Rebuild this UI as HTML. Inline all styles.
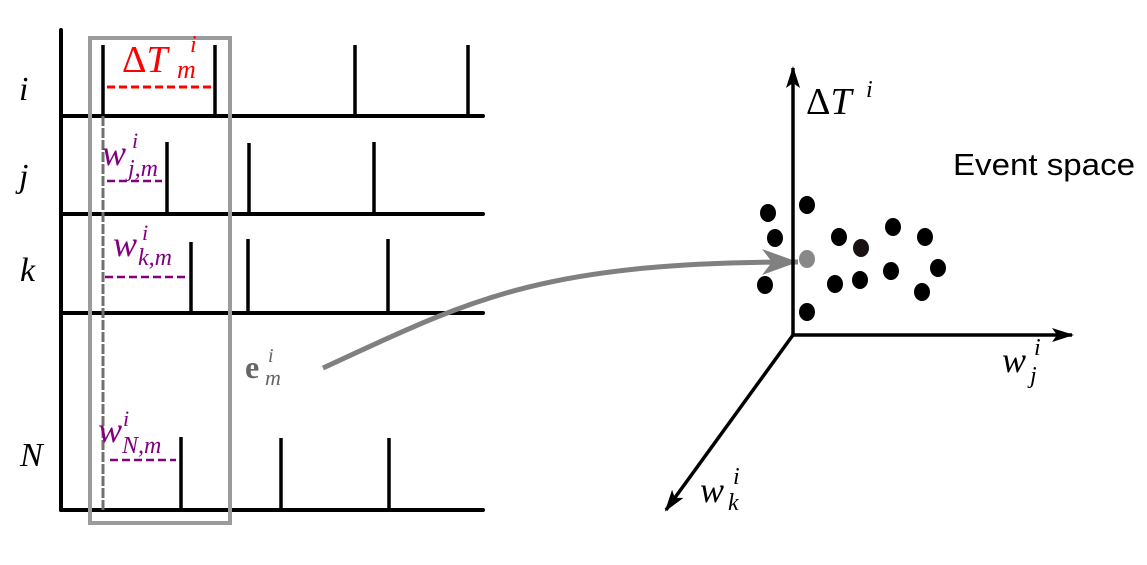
<!DOCTYPE html>
<html><head><meta charset="utf-8"><style>
html,body{margin:0;padding:0;background:#fff;width:1147px;height:565px;overflow:hidden}
svg{display:block}
.m{font-family:"Liberation Serif",serif;font-style:italic}
</style></head><body>
<svg width="1147" height="565" viewBox="0 0 1147 565" xmlns="http://www.w3.org/2000/svg">
<defs>
<marker id="ah" markerWidth="22" markerHeight="14" refX="20" refY="7" orient="auto" markerUnits="userSpaceOnUse"><path d="M0,0 L22,7 L0,14 L5,7 Z" fill="#000"/></marker>
<marker id="gh" markerWidth="38" markerHeight="26" refX="36" refY="13" orient="auto" markerUnits="userSpaceOnUse"><path d="M0,0 L36,13 L0,26 L10,13 Z" fill="#808080"/></marker>
</defs>
<g stroke="#000" stroke-width="4" stroke-linecap="round">
<line x1="61" y1="30" x2="61" y2="510"/>
<line x1="61" y1="116" x2="483" y2="116"/>
<line x1="61" y1="214" x2="483" y2="214"/>
<line x1="61" y1="313" x2="483" y2="313"/>
<line x1="61" y1="510" x2="483" y2="510"/>
</g>
<g stroke="#000" stroke-width="3.5">
<line x1="103" y1="45" x2="103" y2="116"/><line x1="215" y1="45" x2="215" y2="116"/><line x1="355" y1="45" x2="355" y2="116"/><line x1="468" y1="45" x2="468" y2="116"/>
<line x1="167" y1="142" x2="167" y2="214"/><line x1="249" y1="143" x2="249" y2="214"/><line x1="374" y1="142" x2="374" y2="214"/>
<line x1="191" y1="242" x2="191" y2="313"/><line x1="248" y1="239" x2="248" y2="313"/><line x1="388" y1="239" x2="388" y2="313"/>
<line x1="181" y1="437" x2="181" y2="510"/><line x1="281" y1="438" x2="281" y2="510"/><line x1="389" y1="438" x2="389" y2="510"/>
</g>
<rect x="90" y="38" width="140" height="485" fill="none" stroke="#9b9b9b" stroke-width="4"/>
<line x1="103" y1="116" x2="103" y2="510" stroke="#707070" stroke-width="3" stroke-dasharray="10,2"/>
<line x1="107" y1="87" x2="213" y2="87" stroke="#f00" stroke-width="3" stroke-dasharray="8,4"/>
<g stroke="#800080" stroke-width="2.5" stroke-dasharray="8,4">
<line x1="107" y1="181" x2="162" y2="181"/>
<line x1="105" y1="277" x2="188" y2="277"/>
<line x1="110" y1="460" x2="176" y2="460"/>
</g>
<g class="m" font-size="34" fill="#000">
<text x="19" y="100">i</text><text x="19" y="187">j</text><text x="20" y="281">k</text><text x="20" y="466">N</text>
</g>
<text x="122" y="72" fill="#f00" font-family="Liberation Serif,serif" font-size="38">Δ<tspan font-style="italic">T</tspan></text>
<text x="190" y="52" class="m" fill="#f00" font-size="24">i</text>
<text x="177" y="78" class="m" fill="#f00" font-size="26">m</text>
<g fill="#800080" class="m">
<text x="102" y="165" font-size="36">w</text><text x="132" y="148" font-size="22">i</text><text x="128" y="176" font-size="24">j,m</text>
<text x="113" y="256" font-size="36">w</text><text x="142" y="240" font-size="22">i</text><text x="138" y="265" font-size="24">k,m</text>
<text x="98" y="442" font-size="36">w</text><text x="123" y="426" font-size="22">i</text><text x="122" y="453" font-size="24">N,m</text>
</g>
<text x="245" y="378" font-family="Liberation Serif,serif" font-weight="bold" font-size="32" fill="#666">e</text>
<text x="268" y="362" class="m" font-size="20" fill="#666">i</text>
<text x="265" y="385" class="m" font-size="22" fill="#666">m</text>
<path d="M323,368 C470,300 540,262 798,262" fill="none" stroke="#808080" stroke-width="5" marker-end="url(#gh)"/>
<g stroke="#000" stroke-width="3.5" fill="none">
<line x1="793" y1="335" x2="793" y2="68" marker-end="url(#ah)"/>
<line x1="793" y1="335" x2="1072" y2="335" marker-end="url(#ah)"/>
<line x1="793" y1="335" x2="666" y2="510" marker-end="url(#ah)"/>
</g>
<g fill="#000">
<ellipse cx="768" cy="213" rx="8" ry="9"/><ellipse cx="807" cy="205" rx="8" ry="9"/><ellipse cx="775" cy="238" rx="8" ry="9"/>
<ellipse cx="839" cy="237" rx="8" ry="9"/><ellipse cx="861" cy="248" rx="8" ry="9" fill="#1a1212"/><ellipse cx="893" cy="227" rx="8" ry="9"/>
<ellipse cx="925" cy="237" rx="8" ry="9"/><ellipse cx="765" cy="285" rx="8" ry="9"/><ellipse cx="835" cy="284" rx="8" ry="9"/>
<ellipse cx="860" cy="280" rx="8" ry="9"/><ellipse cx="891" cy="271" rx="8" ry="9"/><ellipse cx="938" cy="268" rx="8" ry="9"/>
<ellipse cx="922" cy="292" rx="8" ry="9"/><ellipse cx="807" cy="312" rx="8" ry="9"/>
</g>
<ellipse cx="807" cy="259" rx="8" ry="9" fill="#888"/>
<text x="806" y="114" font-family="Liberation Serif,serif" font-size="38" fill="#000">Δ<tspan font-style="italic">T</tspan></text>
<text x="866" y="97" class="m" font-size="24">i</text>
<text x="953" y="175" font-family="Liberation Sans,sans-serif" font-size="31" fill="#000" textLength="182" lengthAdjust="spacingAndGlyphs">Event space</text>
<text x="1002" y="372" class="m" font-size="36">w</text><text x="1034" y="355" class="m" font-size="24">i</text><text x="1030" y="383" class="m" font-size="24">j</text>
<text x="700" y="502" class="m" font-size="36">w</text><text x="733" y="484" class="m" font-size="24">i</text><text x="728" y="510" class="m" font-size="24">k</text>
</svg>
</body></html>
